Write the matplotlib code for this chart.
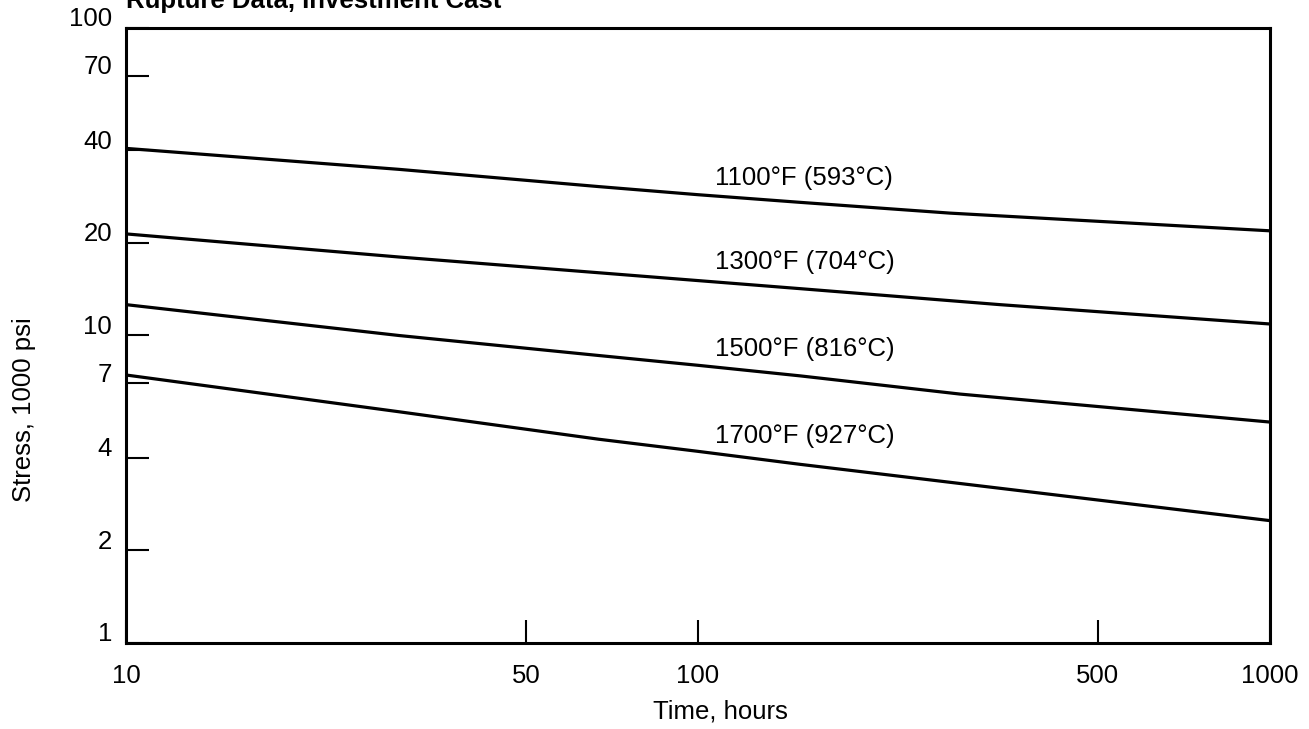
import numpy as np
import matplotlib
matplotlib.use("Agg")
import matplotlib.pyplot as plt
from matplotlib.ticker import FixedLocator, NullLocator
from matplotlib.transforms import ScaledTranslation

plt.rcParams['font.family'] = ['Liberation Sans', 'DejaVu Sans']

# rupture curves (hours, stress in 1000 psi)
hours_1100 = [10, 30, 67, 100, 151, 276, 1000]
stress_1100 = [40.6, 34.7, 30.5, 28.7, 27.1, 25.0, 21.9]

hours_1300 = [10, 30, 67, 151, 337, 1000]
stress_1300 = [21.4, 18.0, 16.0, 14.2, 12.6, 10.9]

hours_1500 = [10, 30, 67, 100, 151, 287, 1000]
stress_1500 = [12.6, 10.0, 8.61, 8.0, 7.39, 6.45, 5.23]

hours_1700 = [10, 30, 67, 100, 151, 1000]
stress_1700 = [7.44, 5.65, 4.60, 4.20, 3.81, 2.50]

labels = ['1100°F (593°C)', '1300°F (704°C)', '1500°F (816°C)', '1700°F (927°C)']
label_x = 107
label_y = [32.5, 17.3, 9.04, 4.71]

xticks = [10, 50, 100, 500, 1000]
yticks = [1, 2, 4, 7, 10, 20, 40, 70, 100]

FS = 18.5

fig = plt.figure(figsize=(13.09, 7.29), dpi=100)
ax = fig.add_axes([126/1309, 1-643/729, 1144/1309, 615/729])

for h, s in [(hours_1100, stress_1100), (hours_1300, stress_1300),
             (hours_1500, stress_1500), (hours_1700, stress_1700)]:
    ax.plot(h, s, color='black', lw=2.3, solid_capstyle='butt')

for txt, y in zip(labels, label_y):
    ax.text(label_x, y, txt, fontsize=FS, ha='left', va='center')

ax.set_xscale('log')
ax.set_yscale('log')
ax.set_xlim(10, 1000)
ax.set_ylim(1, 100)
ax.xaxis.set_major_locator(FixedLocator(xticks))
ax.yaxis.set_major_locator(FixedLocator(yticks))
ax.xaxis.set_minor_locator(NullLocator())
ax.yaxis.set_minor_locator(NullLocator())
ax.set_xticklabels([str(t) for t in xticks])
ax.set_yticklabels([str(t) for t in yticks])
ax.tick_params(direction='in', length=16.5, width=1.5, labelsize=FS, color='black')
ax.tick_params(axis='x', pad=15)
ax.tick_params(axis='y', pad=10)

# y labels sit a little above their ticks in the original
shift = ScaledTranslation(0, 8/72, fig.dpi_scale_trans)
for lab in ax.get_yticklabels():
    lab.set_transform(lab.get_transform() + shift)

for sp in ax.spines.values():
    sp.set_linewidth(2.2)

fig.text(126/1309, 1-8/729, 'Rupture Data, Investment Cast', fontsize=FS,
         fontweight='bold', ha='left', va='baseline')
fig.text(720/1309, 1-712/729, 'Time, hours', fontsize=FS, ha='center', va='center')
fig.text(24/1309, 1-410/729, 'Stress, 1000 psi', fontsize=FS, rotation=90,
         ha='center', va='center')

fig.savefig('out.png', dpi=100)
